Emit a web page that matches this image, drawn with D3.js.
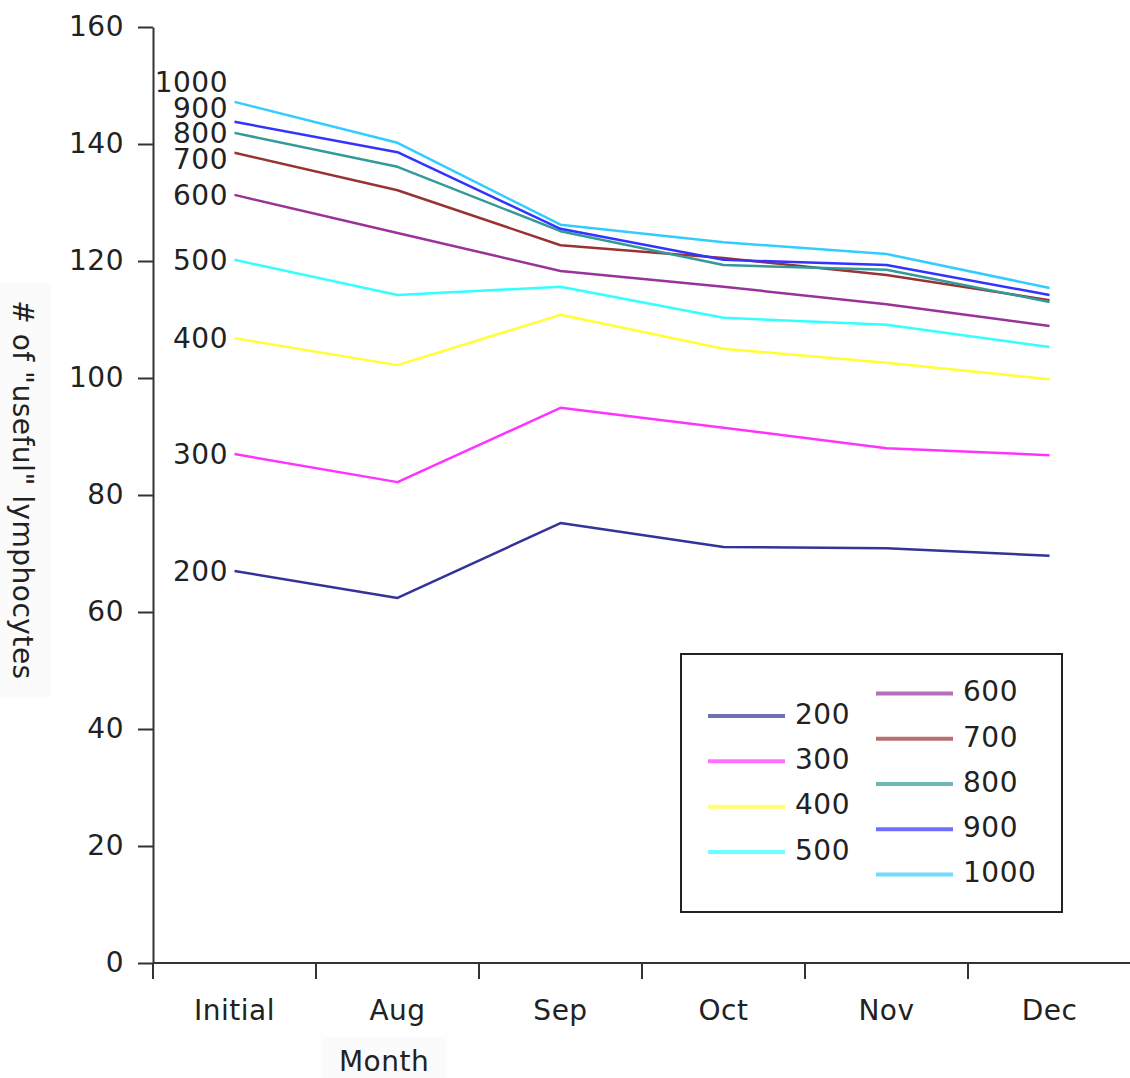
<!DOCTYPE html>
<html>
<head>
<meta charset="utf-8">
<script src="https://cdn.jsdelivr.net/npm/d3@7/dist/d3.min.js"></script>
<style>
  html, body { margin: 0; padding: 0; background: #fff; }
  svg { display: block; }
  text { font-family: "DejaVu Sans", sans-serif; fill: #222; letter-spacing: 0.5px; }
</style>
</head>
<body>
<svg id="chart" width="1130" height="1078"></svg>
<script>
// Months sampled
const months = ["Initial", "Aug", "Sep", "Oct", "Nov", "Dec"];

// One series per threshold
const seriesNames = ["200", "300", "400", "500", "600", "700", "800", "900", "1000"];
const seriesColors = ["#333399", "#ff33ff", "#ffff33", "#33ffff", "#993399", "#993333", "#339999", "#3333ff", "#33ccff"];

const s200  = [67.0, 62.4, 75.2, 71.1, 70.9, 69.6];
const s300  = [87.0, 82.2, 94.9, 91.5, 88.0, 86.8];
const s400  = [106.8, 102.2, 110.8, 105.0, 102.6, 99.8];
const s500  = [120.2, 114.2, 115.6, 110.3, 109.1, 105.3];
const s600  = [131.3, 124.8, 118.3, 115.6, 112.6, 108.9];
const s700  = [138.5, 132.1, 122.7, 120.5, 117.6, 113.3];
const s800  = [141.9, 136.1, 125.1, 119.3, 118.5, 113.0];
const s900  = [143.8, 138.6, 125.5, 120.2, 119.3, 114.2];
const s1000 = [147.2, 140.2, 126.2, 123.2, 121.2, 115.4];

const seriesValues = [s200, s300, s400, s500, s600, s700, s800, s900, s1000];

const yTicks = [0, 20, 40, 60, 80, 100, 120, 140, 160];

const series = seriesNames.map((name, i) => ({
  name, color: seriesColors[i], values: seriesValues[i]
}));

const svg = d3.select("#chart");
const plotL = 153, plotR = 1131, plotT = 27, plotB = 963;
const FS = 28;

const x = d3.scaleBand().domain(months).range([plotL, plotR]).paddingInner(0).paddingOuter(0);
const y = d3.scaleLinear().domain([0, 160]).range([plotB, plotT]);
const cx = m => x(m) + x.bandwidth() / 2;

// Axis titles with faint backing boxes
const yTitle = svg.append("g").attr("transform", `translate(23,490) rotate(90)`);
yTitle.append("rect").attr("x", -207).attr("y", -28).attr("width", 414).attr("height", 56).attr("fill", "#fbfbfb");
yTitle.append("text").attr("text-anchor", "middle").attr("dy", "0.35em")
  .style("font-size", FS + "px").text('# of "useful" lymphocytes');

const xTitle = svg.append("g").attr("transform", `translate(384,1061)`);
xTitle.append("rect").attr("x", -62).attr("y", -24).attr("width", 124).attr("height", 45).attr("fill", "#fbfbfb");
xTitle.append("text").attr("text-anchor", "middle").attr("dy", "0.35em")
  .style("font-size", FS + "px").text("Month");

// Y axis
const gy = svg.append("g").attr("transform", `translate(${plotL},0)`)
  .call(d3.axisLeft(y).tickValues(yTicks).tickSize(15).tickPadding(14).tickSizeOuter(0));
gy.select(".domain").attr("stroke", "#333").attr("stroke-width", 2);
gy.selectAll(".tick line").attr("stroke", "#333").attr("stroke-width", 2);
gy.selectAll(".tick text").attr("font-family", "DejaVu Sans").style("font-size", FS + "px").attr("fill", "#222");

// X axis: ticks on the band boundaries, labels centred in each band
const gx = svg.append("g").attr("transform", `translate(0,${plotB})`);
gx.append("line").attr("x1", plotL).attr("x2", plotR).attr("y1", 0).attr("y2", 0)
  .attr("stroke", "#333").attr("stroke-width", 2);
gx.selectAll("line.tk").data(months).join("line").attr("class", "tk")
  .attr("x1", d => x(d)).attr("x2", d => x(d)).attr("y1", 0).attr("y2", 16)
  .attr("stroke", "#333").attr("stroke-width", 2);
gx.selectAll("text").data(months).join("text")
  .attr("x", d => cx(d)).attr("y", 47).attr("text-anchor", "middle").attr("dy", "0.35em")
  .style("font-size", FS + "px").text(d => d);

// Lines
const line = d3.line().x((d, i) => cx(months[i])).y(d => y(d));
svg.append("g").selectAll("path").data(series).join("path")
  .attr("d", d => line(d.values))
  .attr("fill", "none").attr("stroke", d => d.color).attr("stroke-width", 2.5)
  .attr("stroke-linejoin", "round");

// Series labels at the first point, spread apart so they don't overlap
// (crowded labels are pushed mostly upward)
const labels = series.map(s => ({ name: s.name, y: y(s.values[0]) }));
labels.sort((a, b) => a.y - b.y);
const gap = 25.8;
for (let it = 0; it < 400; it++) {
  for (let i = 0; i < labels.length - 1; i++) {
    const d = labels[i + 1].y - labels[i].y;
    if (d < gap) {
      const deficit = gap - d;
      labels[i].y -= deficit * 0.65;
      labels[i + 1].y += deficit * 0.35;
    }
  }
}
svg.append("g").selectAll("text").data(labels).join("text")
  .attr("x", 228).attr("y", d => d.y).attr("text-anchor", "end").attr("dy", "0.35em")
  .style("font-size", FS + "px").text(d => d.name);

// Legend: two columns, each vertically centred in the box
const lg = svg.append("g");
lg.append("rect").attr("x", 681).attr("y", 654).attr("width", 381).attr("height", 258)
  .attr("fill", "#fff").attr("stroke", "#222").attr("stroke-width", 2);
const cols = [series.slice(0, 4), series.slice(4)];
const rowH = 45.3;
const colX = [708, 876];
const boxMid = 654 + 258 / 2 + 1;
cols.forEach((col, ci) => {
  const y0 = boxMid - (col.length - 1) * rowH / 2;
  col.forEach((s, ri) => {
    const yy = y0 + ri * rowH;
    lg.append("line").attr("x1", colX[ci]).attr("x2", colX[ci] + 77)
      .attr("y1", yy).attr("y2", yy).attr("stroke", s.color)
      .attr("stroke-width", 4).attr("stroke-opacity", 0.7);
    lg.append("text").attr("x", colX[ci] + 87).attr("y", yy - 2).attr("dy", "0.35em")
      .style("font-size", FS + "px").text(s.name);
  });
});
</script>
</body>
</html>
